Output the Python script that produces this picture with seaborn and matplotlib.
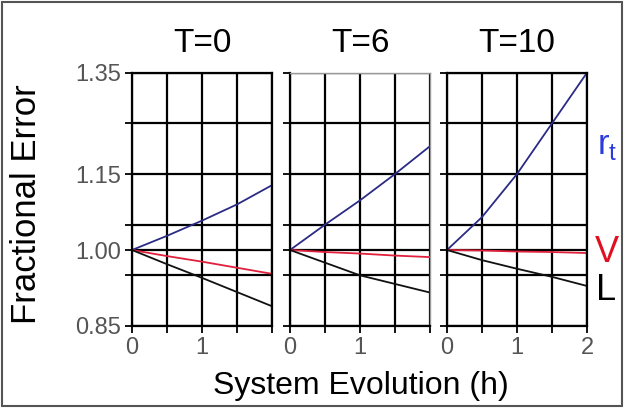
import numpy as np
import pandas as pd
import matplotlib
matplotlib.use("Agg")
import matplotlib.pyplot as plt
import seaborn as sns
from matplotlib.patches import Rectangle

# --- data ---
hours = [0.0, 0.5, 1.0, 1.5, 2.0]
panel_titles = ["T=0", "T=6", "T=10"]

rt_t0 = [1.000, 1.028, 1.058, 1.090, 1.128]
v_t0 = [1.000, 0.988, 0.977, 0.965, 0.953]
l_t0 = [1.000, 0.972, 0.945, 0.917, 0.889]

rt_t6 = [1.000, 1.050, 1.098, 1.150, 1.205]
v_t6 = [1.000, 0.996, 0.993, 0.989, 0.986]
l_t6 = [1.000, 0.975, 0.950, 0.933, 0.916]

rt_t10 = [1.000, 1.065, 1.150, 1.250, 1.350]
v_t10 = [1.000, 0.999, 0.997, 0.996, 0.994]
l_t10 = [1.000, 0.980, 0.963, 0.947, 0.929]

grid_y = [0.85, 0.95, 1.00, 1.05, 1.15, 1.25, 1.35]
labelled_y = [0.85, 1.00, 1.15, 1.35]
grid_x = [0.0, 0.5, 1.0, 1.5, 2.0]

series_colors = {"rt": "#2b2b85", "V": "#e0203c", "L": "#111111"}

# --- style ---
sns.set_theme(style="white")
plt.rcParams['font.family'] = ['Liberation Sans', 'DejaVu Sans']
plt.rcParams['mathtext.fontset'] = 'custom'
plt.rcParams['mathtext.rm'] = 'Liberation Sans'

fig = plt.figure(figsize=(6.24, 4.08), dpi=100)
fig.patch.set_facecolor("white")

lefts = [132 / 624, 290 / 624, 447 / 624]
width = 140 / 624
bottom = 1 - 326 / 408
height = (326 - 72.7) / 408

panels = [(rt_t0, v_t0, l_t0), (rt_t6, v_t6, l_t6), (rt_t10, v_t10, l_t10)]

for i, (rt, v, l) in enumerate(panels):
    ax = fig.add_axes([lefts[i], bottom, width, height])
    df = pd.DataFrame({
        "hours": hours * 3,
        "error": rt + v + l,
        "series": ["rt"] * 5 + ["V"] * 5 + ["L"] * 5,
    })
    sns.lineplot(data=df, x="hours", y="error", hue="series",
                 palette=series_colors, legend=False, ax=ax, linewidth=1.3)

    ax.set_xlim(0, 2)
    ax.set_ylim(0.85, 1.35)
    ax.set_xticks(grid_x)
    ax.set_yticks(grid_y)
    if i == 2:
        ax.set_xticklabels(["0", "", "1", "", "2"])
    else:
        ax.set_xticklabels(["0", "", "1", "", ""])
    if i == 0:
        ax.set_yticklabels([f"{y:.2f}" if y in labelled_y else "" for y in grid_y])
    else:
        ax.set_yticklabels([""] * len(grid_y))

    ax.set_axisbelow(True)
    ax.grid(True, color="black", linewidth=1.6)
    ax.tick_params(axis="both", direction="out", length=5, width=1.3,
                   color="black", labelsize=17, labelcolor="#555555", pad=3,
                   left=True, bottom=True)
    ax.set_xlabel("")
    ax.set_ylabel("")
    for side, sp in ax.spines.items():
        sp.set_color("black")
        sp.set_linewidth(1.6)
    if i == 1:
        ax.spines["top"].set_color("#999999")
        ax.spines["right"].set_color("#999999")
        ax.spines["top"].set_linewidth(1.0)
        ax.spines["right"].set_linewidth(1.0)

    ax.set_title(panel_titles[i], fontsize=24, pad=15, color="black")

fig.text(0.042, 0.50, "Fractional Error", rotation=90, fontsize=25,
         ha="center", va="center", color="black")
fig.text(0.579, 0.054, "System Evolution (h)", fontsize=23,
         ha="center", va="center", color="black")

fig.text(607 / 624, 1 - 146 / 408, r"$\mathrm{r}_\mathrm{t}$", fontsize=25,
         ha="center", va="center", color="#2a3adb")
fig.text(607 / 624, 1 - 252 / 408, "V", fontsize=26,
         ha="center", va="center", color="#e01020")
fig.text(606 / 624, 1 - 290 / 408, "L", fontsize=26,
         ha="center", va="center", color="black")

fig.patches.append(Rectangle((0.003, 0.004), 0.994, 0.992, transform=fig.transFigure,
                             fill=False, edgecolor="#555555", linewidth=1.5))

fig.savefig("out.png", dpi=100, facecolor="white")
